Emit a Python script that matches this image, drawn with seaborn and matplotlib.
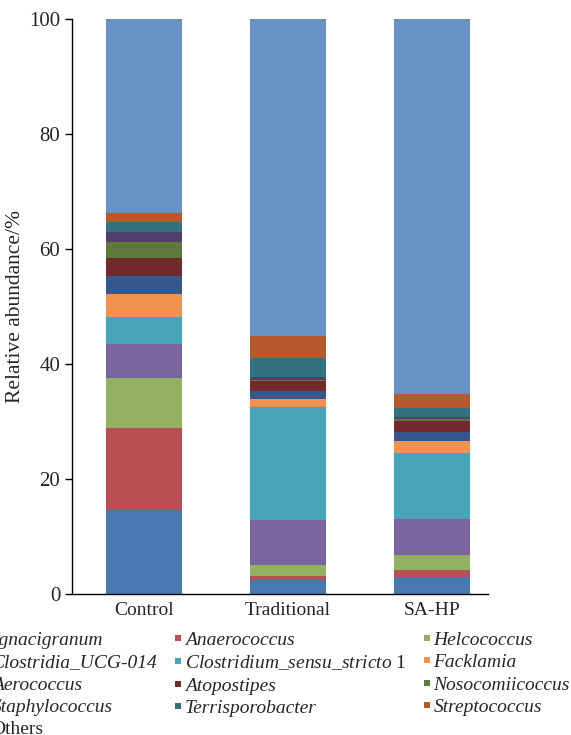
import numpy as np
import matplotlib
matplotlib.use("Agg")
import matplotlib.pyplot as plt
import seaborn as sns
from matplotlib.lines import Line2D

groups = ["Control", "Traditional", "SA-HP"]

taxa = ["Ignacigranum", "Anaerococcus", "Helcococcus", "Clostridia_UCG-014",
        "Clostridium_sensu_stricto 1", "Facklamia", "Aerococcus", "Atopostipes",
        "Nosocomiicoccus", "Staphylococcus", "Terrisporobacter", "Streptococcus",
        "Others"]

# relative abundance (%) per group, bottom to top
control = [14.6, 14.3, 8.7, 5.9, 4.7, 4.0, 3.1, 3.1, 2.8, 1.7, 1.8, 1.6, 33.7]
traditional = [2.4, 0.8, 1.9, 7.8, 19.6, 1.4, 1.4, 1.7, 0.3, 0.5, 3.3, 3.8, 55.1]
sa_hp = [3.0, 1.2, 2.6, 6.2, 11.5, 2.1, 1.5, 2.0, 0.35, 0.35, 1.6, 2.4, 65.2]

colors = ["#4A78B0", "#B84F55", "#92B062", "#7964A0", "#4AA4B9", "#F0914F",
          "#38578A", "#722A2C", "#5E7A3B", "#533F6E", "#346F7F", "#B45A2C",
          "#6992C4"]

sns.set_theme(style="ticks")
plt.rcParams["font.family"] = ["Liberation Serif", "DejaVu Serif"]
plt.rcParams["mathtext.fontset"] = "custom"
plt.rcParams["mathtext.it"] = "Liberation Serif:italic"
plt.rcParams["mathtext.rm"] = "Liberation Serif"

fig = plt.figure(figsize=(5.71, 7.35), dpi=100)
ax = fig.add_axes([72 / 571, 1 - 594 / 735, (488 - 72) / 571, (594 - 19) / 735])

values = np.array([control, traditional, sa_hp])
tops = np.cumsum(values, axis=1)

# draw cumulative bars from the top layer down so each layer shows its own band
for i in range(len(taxa) - 1, -1, -1):
    sns.barplot(x=groups, y=tops[:, i], color=colors[i], saturation=1,
                width=0.53, linewidth=0, ax=ax)

ax.set_xlim(-0.5, 2.39)
ax.set_ylim(0, 100)
ax.set_yticks([0, 20, 40, 60, 80, 100])
ax.set_ylabel("Relative abundance/%", fontsize=15.5)
ax.yaxis.set_label_coords(-0.113, 0.5)
ax.set_xlabel("")
ax.tick_params(axis="y", labelsize=15, length=5, width=1, direction="out", color="black")
ax.tick_params(axis="x", labelsize=14, length=0, pad=6)
for s in ["top", "right"]:
    ax.spines[s].set_visible(False)
for s in ["left", "bottom"]:
    ax.spines[s].set_color("black")
    ax.spines[s].set_linewidth(1)

# legend, row-major order in 3 columns
labels = list(taxa)
labels[4] = r"$\mathit{Clostridium\_sensu\_stricto}$ 1"
handles = [Line2D([], [], marker="s", linestyle="", markersize=4.5,
                  markerfacecolor=c, markeredgewidth=0) for c in colors]
order = [0, 3, 6, 9, 12, 1, 4, 7, 10, 2, 5, 8, 11]
leg = fig.legend([handles[k] for k in order], [labels[k] for k in order],
                 ncol=3, loc="upper left", bbox_to_anchor=(-19 / 571, 1 - 631 / 735),
                 frameon=False, fontsize=14, handlelength=0.4, handletextpad=0.15,
                 labelspacing=0.25, columnspacing=0.85, borderpad=0, borderaxespad=0)
for k, t in zip(order, leg.get_texts()):
    if taxa[k] in ("Others", "Clostridium_sensu_stricto 1"):
        t.set_style("normal")
    else:
        t.set_style("italic")

fig.savefig("out.png", dpi=100)
